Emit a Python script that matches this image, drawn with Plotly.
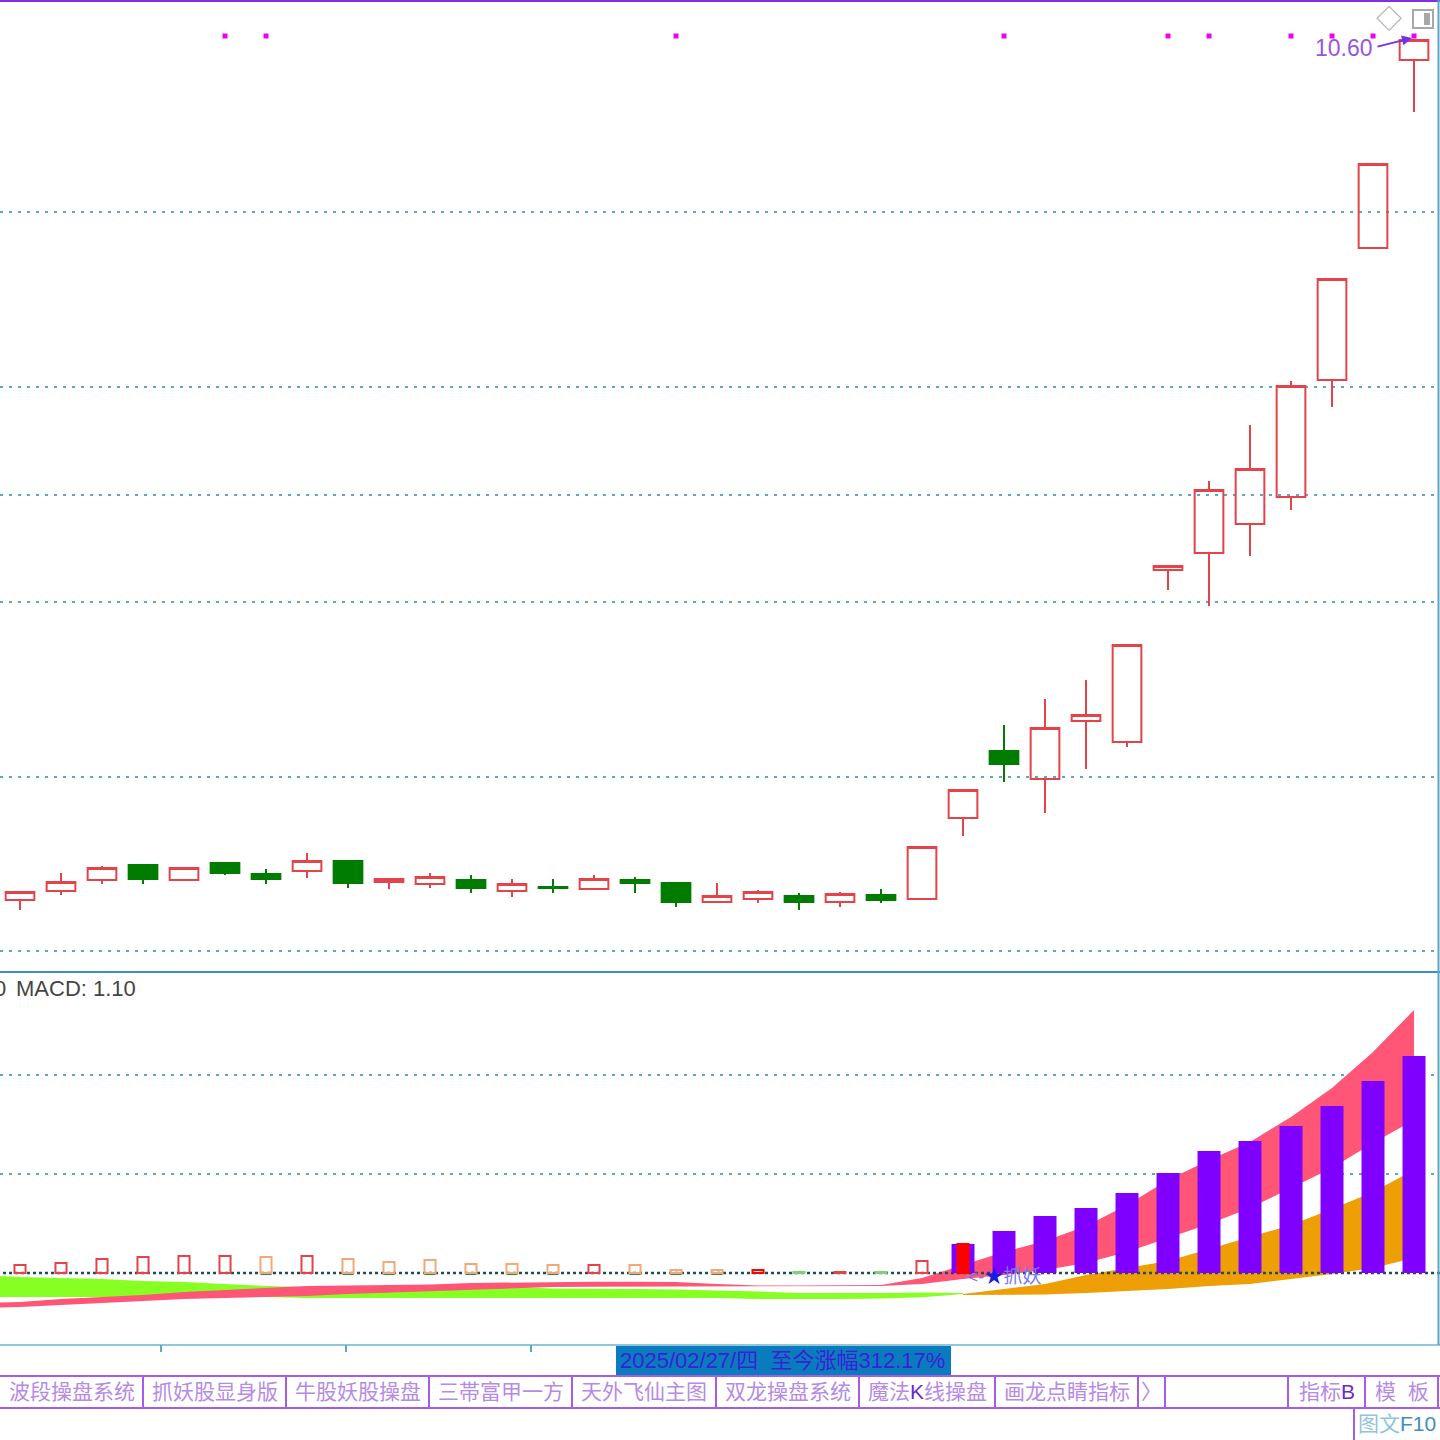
"""K-line and MACD screen with indicator tabs, redrawn with Plotly."""
import plotly.graph_objects as go

W, H = 1440, 1440
RED = "#E2444A"
GREEN = "#007D00"
PEACH = "#F2A878"
PURPLE = "#7F00FF"
TAB_PURPLE = "#A65CE6"
TAB_TEXT = "#B68AE6"
GRID = "#5DA6C8"
CN = "Liberation Sans, Noto Sans CJK SC"

# daily bars
days = list(range(35))
candle_open = [2.00, 2.09, 2.20, 2.35, 2.20, 2.37, 2.26, 2.29, 2.39, 2.18, 2.16, 2.20,
               2.09, 2.13, 2.11, 2.20, 2.17, 1.98, 2.01, 2.04, 1.98, 2.05, 2.01, 2.82,
               3.49, 3.21, 3.79, 3.58, 5.30, 5.47, 5.76, 6.03, 7.20, 8.52, 10.40]
candle_close = [2.08, 2.18, 2.32, 2.21, 2.32, 2.27, 2.21, 2.39, 2.17, 2.21, 2.23, 2.12,
                2.16, 2.12, 2.21, 2.17, 1.98, 2.04, 2.08, 1.98, 2.06, 2.00, 2.53, 3.10,
                3.36, 3.72, 3.85, 4.55, 5.34, 6.10, 6.31, 7.14, 8.21, 9.36, 10.60]
candle_high = [2.08, 2.27, 2.34, 2.35, 2.32, 2.37, 2.31, 2.47, 2.39, 2.21, 2.27, 2.25,
               2.21, 2.21, 2.25, 2.23, 2.17, 2.17, 2.10, 2.07, 2.08, 2.11, 2.53, 3.10,
               3.75, 4.01, 4.20, 4.55, 5.34, 6.19, 6.75, 7.19, 8.21, 9.36, 10.60]
candle_low = [1.90, 2.05, 2.16, 2.16, 2.20, 2.25, 2.16, 2.22, 2.12, 2.11, 2.12, 2.07,
              2.03, 2.07, 2.11, 2.07, 1.93, 1.98, 1.97, 1.90, 1.93, 1.97, 2.01, 2.64,
              3.18, 2.87, 3.31, 3.53, 5.10, 4.94, 5.44, 5.90, 6.93, 8.52, 9.88]
price_grid = [8.88, 7.13, 6.05, 4.98, 3.23, 1.49]
signal_days = [5, 6, 16, 24, 28, 29, 31, 32, 33, 34]
signal_level = [10.64] * len(signal_days)

# MACD columns
hollow_days = list(range(24))
hollow_values = [0.04, 0.05, 0.07, 0.08, 0.085, 0.085, 0.08, 0.085, 0.07, 0.055, 0.065, 0.045,
                 0.045, 0.04, 0.04, 0.04, 0.015, 0.015, 0.015, 0.005, 0.005, 0.005, 0.06, 0.145]
hollow_colors = [RED] * 6 + [PEACH, RED, PEACH, PEACH, PEACH, PEACH, PEACH, PEACH, RED, PEACH,
                             PEACH, PEACH, "#FF0000", "#7FCF7F", RED, "#7FCF7F", RED, "#FF0000"]
hollow_fills = ["rgba(0,0,0,0)"] * 23 + ["#FF0000"]
base_days = [6, 8, 9, 10, 11, 12, 13, 15, 16, 17]
base_values = [-0.01] * len(base_days)
purple_days = list(range(23, 35))
purple_values = [0.145, 0.21, 0.285, 0.325, 0.40, 0.50, 0.61, 0.66, 0.735, 0.835, 0.96, 1.085]
macd_grid = [0.99, 0.495]

# ribbons behind the columns
ribbon_days = list(range(-1, 35))
pink_upper = [-0.15, -0.145, -0.13, -0.12, -0.11, -0.095, -0.085, -0.075, -0.065, -0.0625, -0.06, -0.0575,
              -0.05, -0.0475, -0.045, -0.044, -0.044, -0.045, -0.055, -0.0625, -0.0625, -0.0625, -0.06, -0.025,
              0.04, 0.105, 0.16, 0.235, 0.34, 0.465, 0.565, 0.655, 0.78, 0.925, 1.105, 1.315]
pink_lower = [-0.175, -0.17, -0.16, -0.15, -0.14, -0.13, -0.125, -0.12, -0.115, -0.105, -0.0975, -0.09,
              -0.0825, -0.075, -0.07, -0.0685, -0.0685, -0.0675, -0.065, -0.065, -0.065, -0.065, -0.065, -0.055,
              -0.03, -0.01, 0.015, 0.05, 0.105, 0.175, 0.245, 0.325, 0.425, 0.525, 0.65, 0.765]
green_days = list(range(-1, 24))
green_upper = [-0.01, -0.02, -0.025, -0.03, -0.04, -0.045, -0.055, -0.065, -0.07, -0.07, -0.07, -0.07, -0.07,
               -0.07, -0.0775, -0.0775, -0.08, -0.0825, -0.0865, -0.0925, -0.10, -0.1015, -0.10, -0.0975, -0.10]
green_lower = [-0.12, -0.12, -0.12, -0.12, -0.12, -0.12, -0.12, -0.12, -0.125, -0.125, -0.125, -0.125, -0.125,
               -0.125, -0.125, -0.125, -0.1225, -0.124, -0.125, -0.13, -0.1315, -0.13, -0.1275, -0.1215, -0.105]
orange_days = list(range(23, 35))
orange_upper = [-0.105, -0.08, -0.055, -0.01, 0.025, 0.06, 0.12, 0.18, 0.24, 0.32, 0.405, 0.515]
orange_lower = [-0.11, -0.11, -0.108, -0.10, -0.09, -0.08, -0.065, -0.055, -0.03, -0.005, 0.025, 0.075]

# tabs along the bottom
tab_labels = ["波段操盘系统", "抓妖股显身版", "牛股妖股操盘", "三帯富甲一方", "天外飞仙主图", "双龙操盘系统",
              "魔法<span style='color:#6A28D8'>K</span>线操盘", "画龙点睛指标", "〉",
              "指标<span style='color:#6A28D8'>B</span>", "模  板"]
tab_edges = [0, 143, 286, 429, 572, 716, 859, 995, 1138, 1165, 1288, 1365, 1438]
tab_cells = [(0, 1), (1, 2), (2, 3), (3, 4), (4, 5), (5, 6), (6, 7), (7, 8), (8, 9), (10, 11), (11, 12)]
axis_ticks = [161, 346, 531]


def px(x):
    return x / W


def py(y):
    return 1 - y / H


def ribbon(fig, x, upper, lower, color):
    fig.add_trace(go.Scatter(x=x, y=lower, mode="lines", line=dict(width=0), yaxis="y2", hoverinfo="skip"))
    fig.add_trace(go.Scatter(x=x, y=upper, mode="lines", line=dict(width=0), fill="tonexty",
                             fillcolor=color, yaxis="y2", hoverinfo="skip"))


def rule(x0, y0, x1, y1, color, width=2):
    return dict(type="line", xref="paper", yref="paper", x0=px(x0), y0=py(y0), x1=px(x1), y1=py(y1),
                line=dict(color=color, width=width), layer="above")


def label(x, y, text, size=21, color=TAB_TEXT, anchor="center"):
    return dict(xref="paper", yref="paper", x=px(x), y=py(y), text=text, showarrow=False,
                xanchor=anchor, yanchor="middle", font=dict(family=CN, size=size, color=color))


fig = go.Figure()

fig.add_trace(go.Candlestick(
    x=days, open=candle_open, high=candle_high, low=candle_low, close=candle_close,
    whiskerwidth=0,
    increasing=dict(line=dict(color=RED, width=2), fillcolor="rgba(0,0,0,0)"),
    decreasing=dict(line=dict(color=GREEN, width=2), fillcolor=GREEN),
))
fig.add_trace(go.Scatter(x=signal_days, y=signal_level, mode="markers",
                         marker=dict(symbol="square", size=5, color="#F000F0")))

ribbon(fig, green_days, green_upper, green_lower, "#88FF22")
ribbon(fig, ribbon_days, pink_upper, pink_lower, "#FF5577")
ribbon(fig, orange_days, orange_upper, orange_lower, "#EE9F05")
fig.add_trace(go.Scatter(x=[-1, 35], y=[0, 0], mode="lines", yaxis="y2",
                         line=dict(color="#1F4F55", width=2.5, dash="3px,3px")))

# columns sit on an overlay axis so they stay above the ribbons
fig.add_trace(go.Bar(x=purple_days, y=purple_values, width=0.56, yaxis="y3",
                     marker=dict(color=PURPLE, line=dict(width=0))))
fig.add_trace(go.Bar(x=base_days, y=base_values, width=0.27, yaxis="y3",
                     marker=dict(color="#2E8B57", line=dict(width=0))))
fig.add_trace(go.Bar(x=hollow_days, y=hollow_values, width=0.27, yaxis="y3",
                     marker=dict(color=hollow_fills, line=dict(color=hollow_colors, width=2))))

shapes = [
    rule(0, 1, W, 1, "#8030E0"),
    rule(0, 972, W, 972, "#3E90C0"),
    rule(0, 1345, W, 1345, "#8FC8DC"),
    rule(1438.5, 0, 1438.5, 1345, GRID),
    rule(0, 1376, W, 1376, TAB_PURPLE),
    rule(0, 1408, W, 1408, TAB_PURPLE),
    rule(1354, 1408, 1354, H, TAB_PURPLE),
    dict(type="rect", xref="paper", yref="paper", x0=px(616), x1=px(951), y0=py(1375), y1=py(1346),
         fillcolor="#0A7CBD", line=dict(width=0), layer="above"),
    dict(type="rect", xref="paper", yref="paper", x0=px(1413), x1=px(1433), y0=py(28), y1=py(10),
         fillcolor="white", line=dict(color="#A8A8A8", width=2)),
    dict(type="rect", xref="paper", yref="paper", x0=px(1424), x1=px(1430), y0=py(25), y1=py(13),
         fillcolor="#A8A8A8", line=dict(width=0)),
]
shapes += [rule(x, 1345, x, 1352, "#5FAAC0") for x in axis_ticks]
shapes += [rule(x, 1376, x, 1408, TAB_PURPLE) for x in tab_edges[1:]]

annotations = [label((tab_edges[a] + tab_edges[b]) / 2, 1391, text)
               for text, (a, b) in zip(tab_labels, tab_cells)]
annotations += [
    label(1397, 1423, "图文<span style='color:#3E8FC0'>F10</span>", color="#8FC4DC"),
    label(783, 1360, "2025/02/27/四  至今涨幅312.17%", size=22, color="#3A20D8"),
    label(-8, 988, "0", size=22, color="#444444", anchor="left"),
    label(14, 988, "MACD: 1.10", size=22, color="#444444", anchor="left"),
    label(965, 1276, "&lt;-<span style='color:#1A1AE0'>★</span>抓妖", size=19, color="#7A7AF0", anchor="left"),
    label(1389, 19, "◇", size=26, color="#A8A8A8"),
    label(1344, 48, "10.60", size=23, color="#9A55E0"),
    # arrow from the price label to the top of the last bar
    dict(x=33.95, y=10.62, xref="x", yref="y", ax=-36, ay=9, text="", showarrow=True,
         arrowhead=2, arrowsize=1, arrowwidth=2, arrowcolor="#7A30E0"),
]

fig.update_layout(
    width=W, height=H, margin=dict(l=0, r=0, t=0, b=0),
    paper_bgcolor="white", plot_bgcolor="rgba(0,0,0,0)",
    showlegend=False, barmode="overlay", boxgap=0.3, boxgroupgap=0,
    xaxis=dict(range=[-0.488, 34.634], visible=False, rangeslider=dict(visible=False)),
    yaxis=dict(domain=[py(972), 1], range=[1.28, 11.0], tickvals=price_grid, showticklabels=False, ticks="",
               zeroline=False, showline=False, gridcolor=GRID, gridwidth=2, griddash="3px,6px"),
    yaxis2=dict(domain=[py(1345), py(973)], range=[-0.36, 1.5], tickvals=macd_grid, showticklabels=False,
                ticks="", zeroline=False, gridcolor=GRID, gridwidth=2, griddash="3px,6px"),
    yaxis3=dict(overlaying="y2", range=[-0.36, 1.5], visible=False),
    shapes=shapes,
    annotations=annotations,
)

# the page's default body margin would push the figure off the window
fig.write_html("out.html", config=dict(displayModeBar=False),
               post_script="document.body.style.margin = '0';")
